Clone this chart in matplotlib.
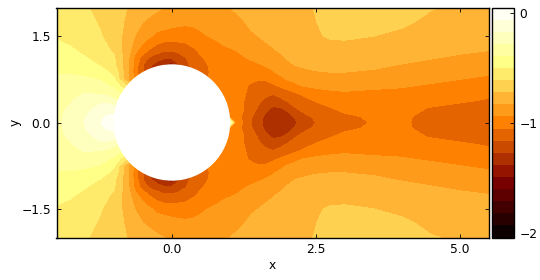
import numpy as np
import matplotlib
matplotlib.use('Agg')
import matplotlib.pyplot as plt

plt.rcParams['font.size'] = 8.8
plt.rcParams['axes.linewidth'] = 1.0

# grid, values (upper half, field is mirrored in y)
x = [-2, -1.75, -1.5, -1.25, -1.125, -1,
     -.75, -.625, -.5, -.375, -.25, -.125, 0, .125, .25, .375, .5,
     .75, .9, 1, 1.1, 1.25, 1.375, 1.5, 1.625, 1.75, 1.875, 2, 2.125, 2.25,
     2.5, 2.75, 3, 3.5, 4, 4.5, 5, 5.5]
y = [0, .1, .25, .375, .5, .625, .75, .875, 1, 1.125, 1.25, 1.5, 1.75, 2]

cp_000 = [-.30, -.245, -.165, -.07, -.02, .04,
          0, -.1, -.2, -.4, -.5, -.6, -.8, -.8, -.8, -.8, -.8,
          -.6, -.4, -.05, -.95, -1.07, -1.16, -1.24, -1.30, -1.35, -1.355, -1.335, -1.29, -1.235,
          -1.16, -1.12, -1.09, -1.04, -1.04, -1.075, -1.095, -1.11]
cp_010 = [-.30, -.25, -.17, -.085, -.05, -.03,
          -.02, -.1, -.2, -.4, -.5, -.6, -.8, -.8, -.8, -.8, -.8,
          -.7, -.9, -.97, -1.0, -1.07, -1.15, -1.22, -1.295, -1.345, -1.345, -1.325, -1.265, -1.20,
          -1.14, -1.10, -1.07, -1.035, -1.04, -1.07, -1.09, -1.105]
cp_025 = [-.30, -.27, -.20, -.145, -.12, -.13,
          -.2, -.4, -.5, -.7, -.8, -.9, -1.0, -1.0, -1.0, -1.0, -1.0,
          -.98, -.98, -.98, -1.0, -1.05, -1.11, -1.17, -1.24, -1.285, -1.28, -1.24, -1.17, -1.13,
          -1.085, -1.055, -1.02, -1.01, -1.025, -1.055, -1.075, -1.09]
cp_037 = [-.32, -.285, -.235, -.19, -.2, -.255,
          -.35, -.5, -.6, -.9, -1.0, -1.1, -1.2, -1.2, -1.2, -1.15, -1.1,
          -1.05, -1.02, -1.0, -1.0, -1.05, -1.10, -1.145, -1.18, -1.21, -1.19, -1.155, -1.115, -1.085,
          -1.045, -1.01, -.99, -.99, -.995, -1.02, -1.04, -1.06]
cp_050 = [-.345, -.305, -.275, -.29, -.305, -.33,
          -.47, -.7, -.8, -1.05, -1.2, -1.3, -1.4, -1.3, -1.3, -1.25, -1.2,
          -1.1, -1.05, -1.02, -1.02, -1.04, -1.08, -1.11, -1.14, -1.155, -1.13, -1.10, -1.07, -1.04,
          -.985, -.965, -.95, -.955, -.965, -.97, -1.0, -1.035]
cp_062 = [-.36, -.335, -.325, -.34, -.375, -.41,
          -.62, -.9, -.95, -1.2, -1.35, -1.45, -1.5, -1.4, -1.3, -1.2, -1.1,
          -1.05, -1.03, -1.02, -1.02, -1.04, -1.06, -1.08, -1.09, -1.07, -1.045, -1.015, -.975, -.945,
          -.925, -.915, -.92, -.93, -.935, -.955, -.97, -1.0]
cp_075 = [-.375, -.37, -.375, -.395, -.44, -.49,
          -.83, -.96, -1.1, -1.3, -1.5, -1.6, -1.6, -1.5, -1.3, -1.15, -1.07,
          -1.03, -1.02, -1.01, -1.015, -1.03, -1.04, -1.045, -1.04, -1.02, -.975, -.935, -.915, -.90,
          -.88, -.87, -.875, -.885, -.905, -.92, -.94, -.96]
cp_087 = [-.40, -.40, -.415, -.45, -.49, -.53,
          -.83, -1.03, -1.15, -1.3, -1.4, -1.45, -1.5, -1.4, -1.25, -1.15, -1.08,
          -1.03, -1.02, -1.005, -1.0, -.995, -.99, -.995, -.975, -.95, -.915, -.88, -.865, -.85,
          -.835, -.83, -.83, -.84, -.86, -.88, -.905, -.925]
cp_100 = [-.42, -.435, -.465, -.505, -.55, -.585,
          -.83, -1.0, -1.16, -1.25, -1.33, -1.40, -1.45, -1.28, -1.19, -1.12, -1.07,
          -1.03, -1.01, -1.0, -.985, -.97, -.96, -.95, -.93, -.91, -.87, -.845, -.83, -.82,
          -.81, -.81, -.805, -.815, -.835, -.855, -.875, -.90]
cp_112 = [-.44, -.46, -.495, -.535, -.57, -.60,
          -.82, -.98, -1.1, -1.18, -1.22, -1.25, -1.25, -1.21, -1.16, -1.11, -1.06,
          -1.01, -.985, -.975, -.96, -.945, -.93, -.91, -.89, -.87, -.85, -.825, -.81, -.795,
          -.785, -.78, -.775, -.785, -.805, -.825, -.845, -.865]
cp_125 = [-.465, -.485, -.525, -.565, -.595, -.625,
          -.80, -.92, -1.0, -1.07, -1.115, -1.155, -1.155, -1.13, -1.11, -1.07, -1.03,
          -.99, -.965, -.955, -.942, -.92, -.90, -.875, -.86, -.84, -.82, -.80, -.785, -.77,
          -.765, -.755, -.76, -.77, -.785, -.80, -.815, -.83]
cp_150 = [-.51, -.535, -.565, -.60, -.63, -.665,
          -.77, -.84, -.885, -.93, -.97, -.985, -.99, -.995, -.995, -.975, -.955,
          -.925, -.895, -.88, -.87, -.85, -.84, -.83, -.81, -.80, -.785, -.775, -.76, -.75,
          -.73, -.71, -.705, -.72, -.74, -.76, -.78, -.80]
cp_175 = [-.52, -.55, -.58, -.62, -.65, -.68,
          -.74, -.78, -.83, -.855, -.875, -.89, -.905, -.915, -.92, -.92, -.915,
          -.89, -.875, -.865, -.85, -.832, -.815, -.80, -.785, -.775, -.765, -.755, -.745, -.735,
          -.721, -.70, -.69, -.68, -.705, -.74, -.75, -.765]
cp_200 = [-.53, -.57, -.60, -.64, -.66, -.68,
          -.725, -.745, -.77, -.79, -.815, -.83, -.85, -.86, -.87, -.87, -.87,
          -.85, -.84, -.83, -.82, -.80, -.79, -.78, -.77, -.76, -.75, -.745, -.737, -.73,
          -.717, -.705, -.695, -.69, -.70, -.715, -.73, -.745]

levels = np.linspace(-2.04, 0.05, 20)

X, Y = np.array(x), np.array(y)
half = np.array([cp_000, cp_010, cp_025, cp_037, cp_050, cp_062, cp_075, cp_087,
                 cp_100, cp_112, cp_125, cp_150, cp_175, cp_200])
cp = np.vstack([half[:0:-1], half])
Yall = np.concatenate([-Y[:0:-1], Y])

fig = plt.figure(figsize=(5.4, 2.8), dpi=100)
ax = fig.add_axes([56.5/540, 1-237.5/280, 432.5/540, 230/280])
cs = ax.contourf(X, Yall, cp, levels=levels, cmap='afmhot')
ax.add_patch(plt.Circle((0, 0), 1.0, color='white', zorder=3))
ax.set_xlim(-2, 5.5)
ax.set_ylim(-2, 2)
ax.set_xticks([0, 2.5, 5])
ax.set_yticks([-1.5, 0, 1.5])
ax.tick_params(direction='in', top=True, right=True, length=3, width=.6, pad=4)
ax.set_xlabel('x', labelpad=2)
ax.set_ylabel('y', labelpad=0)

cax = fig.add_axes([492/540, 1-237.5/280, 22/540, 230/280])
cb = fig.colorbar(cs, cax=cax, ticks=[0, -1, -2])
cax.tick_params(direction='in', length=3, width=.6, pad=4)
cb.outline.set_linewidth(1.0)

fig.savefig('out.png', dpi=100)
